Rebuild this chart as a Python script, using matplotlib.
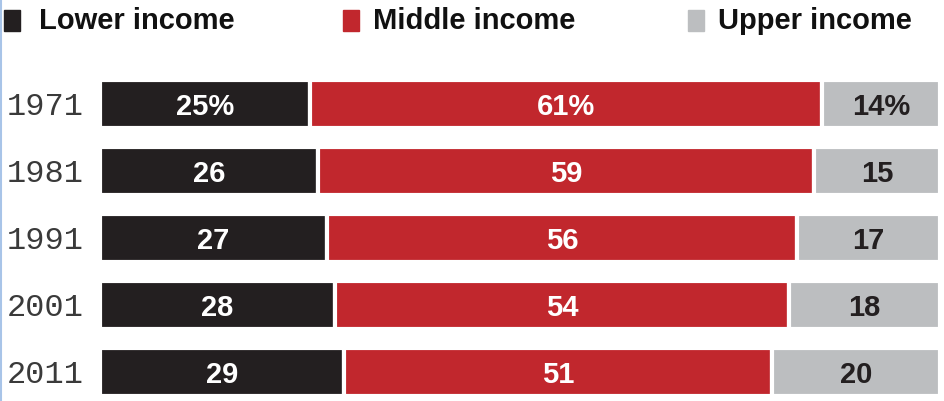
import matplotlib
matplotlib.use("Agg")
import matplotlib.pyplot as plt
from matplotlib.patches import Rectangle
from matplotlib.lines import Line2D
import numpy as np

# data
years = ["1971", "1981", "1991", "2001", "2011"]
lower = [25, 26, 27, 28, 29]
middle = [61, 59, 56, 54, 51]
upper = [14, 15, 17, 18, 20]
series_names = ["Lower income", "Middle income", "Upper income"]

C_LOW = "#231f20"
C_MID = "#c1272d"
C_UP = "#bcbec0"

W, H = 945, 401
fig = plt.figure(figsize=(W / 100, H / 100), dpi=100)
ax = fig.add_axes([100 / W, 0, 840 / W, 331 / H])

y = np.arange(len(years))
lower_a = np.array(lower)
middle_a = np.array(middle)
upper_a = np.array(upper)

kw = dict(height=0.72, edgecolor="white", linewidth=3)
ax.barh(y, lower_a, color=C_LOW, **kw)
ax.barh(y, middle_a, left=lower_a, color=C_MID, **kw)
ax.barh(y, upper_a, left=lower_a + middle_a, color=C_UP, **kw)

lab_font = dict(family="Liberation Sans", weight="bold", fontsize=21)
for i in range(len(years)):
    suffix = "%" if i == 0 else ""
    ax.text(lower_a[i] / 2, y[i], f"{lower_a[i]}{suffix}", ha="center",
            va="center_baseline", color="white", **lab_font)
    ax.text(lower_a[i] + middle_a[i] / 2, y[i], f"{middle_a[i]}{suffix}", ha="center",
            va="center_baseline", color="white", **lab_font)
    ax.text(lower_a[i] + middle_a[i] + upper_a[i] / 2, y[i], f"{upper_a[i]}{suffix}",
            ha="center", va="center_baseline", color=C_LOW, **lab_font)

ax.set_xlim(0, 100)
ax.set_ylim(4.433, -0.507)
ax.set_yticks(y)
ax.set_yticklabels(years, family="Liberation Mono", fontsize=23, color="#3a3a3a")
ax.tick_params(axis="y", length=0, pad=12)
ax.set_xticks([])
for s in ax.spines.values():
    s.set_visible(False)

# legend drawn by hand across the top
leg = [(4, 39, C_LOW), (343, 373, C_MID), (688, 718, C_UP)]
for (sq_x, tx_x, col), name in zip(leg, series_names):
    fig.patches.append(Rectangle((sq_x / W, 1 - 31 / H), 16 / W, 21 / H,
                                 transform=fig.transFigure, color=col))
    fig.text(tx_x / W, 1 - 21 / H, name, ha="left", va="center",
             family="Liberation Sans", weight="bold", fontsize=21, color="#111111")

fig.lines.append(Line2D([1 / W, 1 / W], [0, 1], transform=fig.transFigure,
                        color="#a8c4e8", linewidth=1.5))

fig.savefig("out.png", dpi=100)
